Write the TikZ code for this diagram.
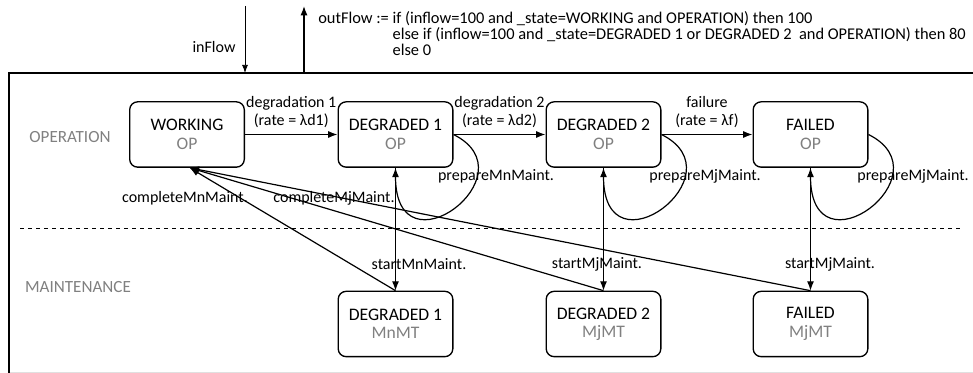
\documentclass[tikz,border=0pt]{standalone}
\usepackage{fontspec}
\setmainfont{Carlito}
\usetikzlibrary{arrows.meta}
\definecolor{lanegray}{gray}{0.5}
\tikzset{
  state/.style={draw,line width=1pt,rounded corners=6pt,minimum width=86pt,minimum height=49pt,align=center,font=\fontsize{13.2}{13.8}\selectfont},
  trans/.style={->,line width=0.9pt},
  lane/.style={text=lanegray,font=\fontsize{12.8}{14}\selectfont},
}

\begin{document}
\begin{tikzpicture}[x=0.75pt,y=-0.75pt,>=Latex,font=\fontsize{12}{13.5}\selectfont]
	\useasboundingbox (0,0) rectangle (973,373);
	% frame and lanes
	\draw[black!12] (9,372)--(973,372);
	\draw[line width=1.6pt] (9,373)--(9,73)--(973,73);
	\draw[dashed,line width=0.5pt] (20,228)--(963,228);
	\node[lane] (operation) at (70,137) {OPERATION};
	\node[lane] (maintenance) at (78,287) {MAINTENANCE};
	% in/out flows
	\coordinate (inTop) at (245,6);
	\coordinate (inBot) at (245,73);
	\coordinate (outTop) at (304,6);
	\coordinate (outBot) at (304,73);
	\draw[->,line width=0.7pt] (inTop)--(inBot);
	\draw[->,line width=0.9pt] (outBot)--(outTop);
	\node (inflow) at (214,47) {inFlow};
	\node[anchor=north west,inner sep=0pt,font=\fontsize{12.3}{11.7}\selectfont] (outflow) at (318,11)
		{\begin{tabular}[t]{@{}l@{}l}outFlow :=\ \mbox{} & if (inflow=100 and \_state=WORKING and OPERATION) then 100\\
		& else if (inflow=100 and \_state=DEGRADED 1 or DEGRADED 2\ \ and OPERATION) then 80\\
		& else 0\end{tabular}};
	% states
	\node[state] (working) at (187,134.5) {WORKING\\\textcolor{lanegray}{OP}};
	\node[state] (degr1) at (395.5,134.5) {DEGRADED 1\\\textcolor{lanegray}{OP}};
	\node[state] (degr2) at (603.5,134.5) {DEGRADED 2\\\textcolor{lanegray}{OP}};
	\node[state] (failed) at (810.5,134.5) {FAILED\\\textcolor{lanegray}{OP}};
	\node[state] (degr1mt) at (395.5,324) {DEGRADED 1\\\textcolor{lanegray}{MnMT}};
	\node[state] (degr2mt) at (603.5,324) {DEGRADED 2\\\textcolor{lanegray}{MjMT}};
	\node[state] (failedmt) at (810.5,324) {FAILED\\\textcolor{lanegray}{MjMT}};
	% degradation
	\draw[trans] (working)--node[above=1pt,align=center]{degradation 1\\(rate = λd1)} (degr1);
	\draw[trans] (degr1)--node[above=1pt,align=center]{degradation 2\\(rate = λd2)} (degr2);
	\draw[trans] (degr2)--node[above=1pt,align=center]{failure\\(rate = λf)} (failed);
	% prepare loops
	\draw[trans] (degr1.east) .. controls +(80,40) and +(0,110) .. (degr1.south);
	\draw[trans] (degr2.east) .. controls +(80,40) and +(0,110) .. (degr2.south);
	\draw[trans] (failed.east) .. controls +(80,40) and +(0,110) .. (failed.south);
	\node (prepmn) at (496,176) {prepareMnMaint.};
	\node (prepmj2) at (705,176) {prepareMjMaint.};
	\node (prepmjf) at (913,176) {prepareMjMaint.};
	% start maintenance
	\draw[trans] (degr1.south)--(degr1mt.north);
	\draw[trans] (degr2.south)--(degr2mt.north);
	\draw[trans] (failed.south)--(failedmt.north);
	\node (startmn) at (419,264) {startMnMaint.};
	\node (startmj2) at (597,264) {startMjMaint.};
	\node (startmjf) at (830,264) {startMjMaint.};
	% complete maintenance
	\draw[trans] (degr1mt.north)--([xshift=2pt]working.south);
	\draw[trans] (degr2mt.north)--([xshift=2pt]working.south);
	\draw[trans] (failedmt.north)--([xshift=2pt]working.south);
	\node (completemn) at (185,198) {completeMnMaint.};
	\node (completemj) at (334,198) {completeMjMaint.};
\end{tikzpicture}
\end{document}
